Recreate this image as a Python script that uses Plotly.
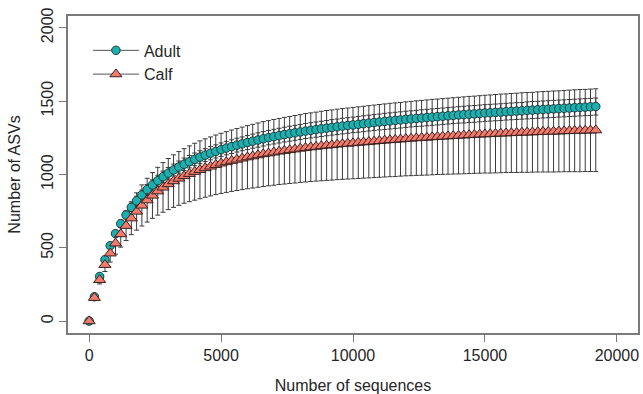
import plotly.graph_objects as go

# Sequencing depth (x) for each rarefaction step
depth = [1] + [200 * i for i in range(1, 97)]

adult_mean = [1, 167, 305, 420, 515, 597, 665, 724, 776, 821,
              861, 897, 929, 958, 985, 1009, 1031, 1051, 1070, 1087,
              1103, 1118, 1132, 1145, 1157, 1169, 1180, 1190, 1200, 1209,
              1218, 1227, 1235, 1243, 1251, 1258, 1265, 1272, 1278, 1284,
              1290, 1296, 1301, 1306, 1311, 1316, 1321, 1325, 1330, 1334,
              1338, 1342, 1346, 1350, 1354, 1358, 1362, 1365, 1369, 1372,
              1376, 1379, 1382, 1385, 1388, 1391, 1394, 1397, 1400, 1403,
              1406, 1408, 1411, 1413, 1416, 1419, 1421, 1423, 1425, 1428,
              1430, 1432, 1434, 1437, 1439, 1441, 1443, 1445, 1447, 1449,
              1451, 1453, 1455, 1457, 1459, 1461, 1463]
adult_sd = [0, 5, 10, 15, 19, 22, 25, 27, 29, 31,
            33, 34, 35, 37, 38, 39, 40, 41, 42, 42,
            43, 44, 44, 45, 45, 46, 46, 47, 47, 47,
            48, 48, 49, 49, 49, 50, 50, 50, 51, 51,
            51, 51, 52, 52, 52, 52, 53, 53, 53, 53,
            53, 54, 54, 54, 54, 54, 55, 55, 55, 55,
            55, 55, 55, 56, 56, 56, 56, 56, 56, 56,
            56, 57, 57, 57, 57, 57, 57, 57, 57, 57,
            57, 57, 57, 58, 58, 58, 58, 58, 58, 58,
            58, 58, 58, 58, 58, 58, 58]
calf_mean = [1, 160, 282, 385, 463, 531, 594, 651, 702, 748,
             789, 825, 857, 886, 912, 935, 955, 973, 990, 1005,
             1019, 1032, 1044, 1055, 1066, 1076, 1085, 1094, 1102, 1110,
             1118, 1125, 1132, 1139, 1145, 1151, 1157, 1162, 1167, 1172,
             1177, 1182, 1186, 1190, 1194, 1198, 1201, 1205, 1208, 1211,
             1214, 1217, 1220, 1223, 1226, 1229, 1232, 1235, 1237, 1240,
             1243, 1245, 1248, 1250, 1252, 1255, 1257, 1259, 1261, 1263,
             1265, 1267, 1269, 1271, 1273, 1275, 1276, 1278, 1280, 1281,
             1283, 1284, 1286, 1287, 1288, 1290, 1291, 1292, 1293, 1294,
             1296, 1297, 1298, 1299, 1300, 1301, 1302]
calf_sd = [0, 13, 28, 46, 60, 74, 89, 101, 112, 127,
           140, 149, 156, 163, 169, 174, 179, 183, 186, 190,
           194, 197, 199, 201, 203, 205, 207, 209, 211, 213,
           215, 217, 219, 221, 222, 224, 225, 227, 228, 230,
           231, 233, 234, 235, 237, 238, 239, 240, 241, 242,
           243, 244, 245, 246, 247, 248, 249, 250, 251, 251,
           252, 253, 254, 255, 256, 257, 257, 258, 259, 260,
           261, 262, 263, 263, 264, 265, 266, 267, 268, 268,
           269, 270, 271, 272, 272, 273, 274, 275, 276, 276,
           277, 278, 279, 280, 280, 281, 282]

series_names = ["Adult", "Calf"]
x_ticks = [0, 5000, 10000, 15000, 20000]
y_ticks = [0, 500, 1000, 1500, 2000]

FONT = "Liberation Sans, Arial, sans-serif"
TXT = "#262626"
ERR = "#3a3a3a"

adult_marker = dict(symbol="circle", size=8.5, color="#1BB0B0",
                    line=dict(color="#1f3a3a", width=1))
calf_marker = dict(symbol="triangle-up", size=10.5, color="#F37B6C",
                   line=dict(color="#3a2020", width=1))

fig = go.Figure()

# error bars (drawn first, under the points)
for mean, sd in [(adult_mean, adult_sd), (calf_mean, calf_sd)]:
    fig.add_trace(go.Scatter(
        x=depth, y=mean, mode="markers",
        marker=dict(size=1, opacity=0),
        error_y=dict(type="data", array=sd, visible=True,
                     color=ERR, thickness=1, width=2.5),
        showlegend=False, hoverinfo="skip"))

fig.add_trace(go.Scatter(x=depth, y=adult_mean, mode="markers",
                         name=series_names[0], marker=adult_marker,
                         showlegend=False))
fig.add_trace(go.Scatter(x=depth, y=calf_mean, mode="markers",
                         name=series_names[1], marker=calf_marker,
                         showlegend=False))

# legend entries (line + symbol, as in the R legend)
for nm, mk in zip(series_names, [adult_marker, calf_marker]):
    fig.add_trace(go.Scatter(x=[None], y=[None], mode="lines+markers",
                             name=nm, marker=mk,
                             line=dict(color="#555555", width=1)))

axis_common = dict(
    showgrid=False, zeroline=False, showline=True, mirror=True,
    linecolor="#7a7a7a", linewidth=1.5, automargin=False,
    ticks="outside", ticklen=7, tickwidth=1, tickcolor="#7a7a7a",
    tickfont=dict(family=FONT, size=16, color=TXT),
)

fig.update_layout(
    width=643, height=394,
    margin=dict(l=68, r=5, t=16, b=61),
    paper_bgcolor="white", plot_bgcolor="white",
    font=dict(family=FONT, size=16, color=TXT),
    xaxis=dict(range=[-800, 20800], tickvals=x_ticks,
               ticktext=[str(v) for v in x_ticks],
               title=dict(text="Number of sequences", standoff=18,
                          font=dict(family=FONT, size=16, color=TXT)),
               **axis_common),
    yaxis=dict(range=[-80, 2080], tickvals=y_ticks,
               ticktext=[str(v) for v in y_ticks], tickangle=-90,
               title=dict(text="Number of ASVs", standoff=14,
                          font=dict(family=FONT, size=16, color=TXT)),
               **axis_common),
    legend=dict(x=0.035, y=0.945, xanchor="left", yanchor="top",
                bgcolor="rgba(0,0,0,0)", borderwidth=0,
                itemwidth=46, tracegroupgap=0,
                font=dict(family=FONT, size=16, color=TXT)),
    showlegend=True,
)

fig.write_html("out.html")
